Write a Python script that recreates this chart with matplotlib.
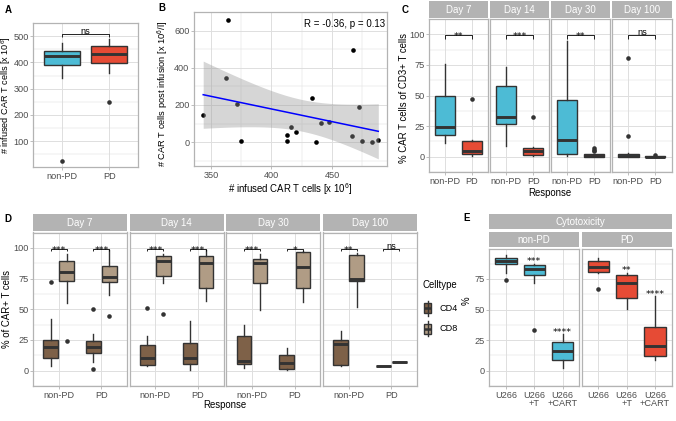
import matplotlib
matplotlib.use('Agg')
import matplotlib.pyplot as plt
import matplotlib.transforms as mtransforms
from matplotlib.patches import Rectangle
import numpy as np

plt.rcParams['font.family'] = ['Liberation Sans', 'DejaVu Sans']
plt.rcParams['mathtext.default'] = 'regular'

W, H = 676, 421

# colours (ggsci npg)
NONPD_COL = '#4DBBD5'
PD_COL = '#E64B35'
CD4_COL = '#7E6148'
CD8_COL = '#B09C85'
EDGE = '#333333'
BORDER = '#B3B3B3'
GRID = '#DEDEDE'
TICKTXT = '#4D4D4D'
TICK_FS = 6.6
TITLE_FS = 6.9

# ---- data ---- (whislo, q1, median, q3, whishi, outliers)
responses = ['non-PD', 'PD']

# A: infused CAR T cells [x 10^6]
a_boxes = [(342, 390, 426, 443, 474, [26]),
           (360, 396, 431, 462, 488, [249])]
a_sig = 'ns'

# B: infused vs post infusion
b_infused = [343.6, 364, 362.1, 371.2, 375, 413, 413, 416.1, 420.5, 433.5,
             436.5, 440.9, 447.5, 466.8, 467.6, 472, 475, 482.8, 488.3]
b_post = [145.6, 658.6, 342.6, 204.2, 8.9, 37.3, 8.9, 79.9, 53.3, 239.7,
          1.8, 101.2, 108.3, 32, 495.3, 188.2, 8.9, 1.8, 12.4]
b_stat = 'R = -0.36, p = 0.13'

# C: % CAR T cells of CD3+ T cells
days = ['Day 7', 'Day 14', 'Day 30', 'Day 100']
c_nonpd = [(10.8, 17.9, 23.9, 49.8, 76, []),
           (8.9, 27, 32.3, 57.9, 73.4, []),
           (0.7, 2.6, 13.4, 46.2, 94.5, []),
           (0, 0, 0.3, 2.4, 3, [17.2, 80.4])]
c_pd = [(0.7, 1.9, 4.8, 12.7, 13.4, [47.1]),
        (0.2, 1.4, 4.8, 7.4, 7.6, [32.5]),
        (0, 0.1, 0.7, 1.9, 2.2, [4.5, 5.5, 6.9]),
        (-0.5, -0.4, 0, 0.5, 0.6, [1.4])]
c_sig = ['**', '***', '**', 'ns']

# D: % of CAR+ T cells by celltype, [non-PD, PD] per day
celltypes = ['CD4', 'CD8']
d_cd4 = [[(4, 10.1, 18.9, 25.2, 41.7, [72.2]), (7.3, 14.6, 19.1, 23.8, 29.5, [49.8, 1.7])],
         [(4, 4.7, 10.1, 21, 28.5, [50.7]), (0.9, 5.2, 9.9, 22.4, 40.1, [])],
         [(1.9, 5.4, 8, 28.5, 36.8, []), (0.7, 1.2, 6.4, 12.5, 18.6, [])],
         [(4, 4.5, 21.7, 25.2, 32.1, []), (3.8, 3.8, 3.8, 3.8, 3.8, [])]]
d_cd8 = [[(55, 72.9, 80.2, 89.6, 94.8, [24.5]), (62, 71.9, 76.4, 85.4, 98, [44.6])],
         [(71.2, 76.7, 89.2, 93.6, 94.8, [45.8]), (57.1, 67.2, 88, 93.4, 98.6, [])],
         [(49, 71.5, 88, 91, 94.8, []), (56.1, 67.2, 84.4, 96.9, 97.6, [])],
         [(52.1, 72.9, 75, 94.3, 96, []), (7.1, 7.1, 7.1, 7.1, 7.1, [])]]
d_sig = [['***', '***'], ['***', '***'], ['***', '*'], ['**', 'ns']]

# E: cytotoxicity
e_groups = ['U266', 'U266\n+T', 'U266\n+CART']
e_nonpd = [(80, 87, 90, 92.5, 94.8, [74.3]),
           (72, 78.5, 83, 86.3, 87.5, [33]),
           (2.5, 8.5, 16, 23.5, 30, [])]
e_pd = [(80, 80.5, 84.5, 89.3, 91.8, [66.5]),
        (50.5, 59.5, 71.8, 78.3, 80, []),
        (8.5, 12, 20, 35.5, 61, [])]
e_nonpd_sig = ['', '***', '****']
e_pd_sig = ['', '**', '****']

fig = plt.figure(figsize=(W / 100, H / 100), dpi=100)


def px_axes(x0, y0, x1, y1):
    return fig.add_axes([x0 / W, 1 - y1 / H, (x1 - x0) / W, (y1 - y0) / H])


def theme(ax, xlim, ylim, yticks, ylabels=True, xticks=None, xlabels=None, xminor=None):
    ax.set_xlim(*xlim)
    ax.set_ylim(*ylim)
    ax.set_yticks(yticks)
    ym = np.array(yticks, dtype=float)
    step = ym[1] - ym[0]
    minor = np.arange(ym[0] - step / 2, ym[-1] + step, step)
    ax.set_yticks(minor, minor=True)
    if xticks is not None:
        ax.set_xticks(xticks)
        if xlabels is not None:
            ax.set_xticklabels(xlabels)
    if xminor is not None:
        ax.set_xticks(xminor, minor=True)
    ax.grid(True, which='major', color=GRID, lw=0.7)
    ax.grid(True, which='minor', color=GRID, lw=0.35)
    ax.set_axisbelow(True)
    for s in ax.spines.values():
        s.set_color(BORDER)
        s.set_linewidth(0.9)
    ax.tick_params(which='major', length=2, width=0.6, color=BORDER, labelsize=TICK_FS,
                   labelcolor=TICKTXT, pad=1.3)
    ax.tick_params(which='minor', length=0)
    if not ylabels:
        ax.tick_params(axis='y', labelleft=False, length=0)


def boxes(ax, stats, positions, colors, width):
    st = [dict(whislo=s[0], q1=s[1], med=s[2], q3=s[3], whishi=s[4], fliers=s[5]) for s in stats]
    res = ax.bxp(st, positions=positions, widths=width, patch_artist=True, showcaps=False,
                 boxprops=dict(edgecolor=EDGE, linewidth=1.0),
                 medianprops=dict(color=EDGE, linewidth=2.1, solid_capstyle='butt'),
                 whiskerprops=dict(color=EDGE, linewidth=1.0),
                 flierprops=dict(marker='o', markerfacecolor=EDGE, markeredgecolor='none',
                                 markersize=3.3))
    for b, c in zip(res['boxes'], colors):
        b.set_facecolor(c)


def sig_text(ax, x, y, label):
    # asterisks sit high in the glyph box, so pull them down onto the line
    dy = 0.6 if label == 'ns' else -3.6
    tr = mtransforms.offset_copy(ax.transData, fig=fig, y=dy, units='dots')
    fs = TICK_FS if label == 'ns' else 6.8
    ax.text(x, y, label, ha='center', va='baseline', fontsize=fs, transform=tr,
            clip_on=False, family=['DejaVu Sans'] if label != 'ns' else None)


def bracket(ax, x1, x2, y, tip, label):
    ax.plot([x1, x1, x2, x2], [y - tip, y, y, y - tip], color='black', lw=0.6,
            solid_capstyle='butt', clip_on=False)
    sig_text(ax, (x1 + x2) / 2, y, label)


def strip(x0, y0, x1, y1, label):
    sax = px_axes(x0, y0, x1, y1)
    sax.set_facecolor(BORDER)
    sax.set_xticks([])
    sax.set_yticks([])
    for s in sax.spines.values():
        s.set_visible(False)
    sax.text(0.5, 0.46, label, ha='center', va='center', color='white', fontsize=7,
             transform=sax.transAxes)


def ftext(x, y, s, **kw):
    fig.text(x / W, 1 - y / H, s, **kw)


# ---------- A ----------
axA = px_axes(33, 23, 138, 167)
boxes(axA, a_boxes, [1, 2], [NONPD_COL, PD_COL], 0.75)
theme(axA, (0.4, 2.6), (2, 535), [100, 200, 300, 400, 500], xticks=[1, 2], xlabels=responses)
axA.tick_params(axis='y', pad=1.0)
bracket(axA, 1, 2, 507, 12, a_sig)
ftext(6.3, 95, '# infused CAR T cells [x 10$^6$]', rotation=90, ha='center', va='center',
      fontsize=6.6)

# ---------- B ----------
axB = px_axes(194, 12, 387, 166)
bx = np.array(b_infused)
by = np.array(b_post)
axB.scatter(bx, by, s=11, color='black', zorder=2, linewidths=0)
slope, icpt = np.polyfit(bx, by, 1)
xs = np.linspace(bx.min(), bx.max(), 80)
fit = icpt + slope * xs
resid = by - (icpt + slope * bx)
n = len(bx)
s_err = np.sqrt(np.sum(resid ** 2) / (n - 2))
se = s_err * np.sqrt(1 / n + (xs - bx.mean()) ** 2 / np.sum((bx - bx.mean()) ** 2))
t_crit = 2.110  # t(0.975, df=17)
axB.fill_between(xs, fit - t_crit * se, fit + t_crit * se, color='#999999', alpha=0.4,
                 lw=0, zorder=3)
axB.plot(xs, fit, color='blue', lw=1.1, zorder=4)
theme(axB, (336, 495.5), (-128, 693), [0, 200, 400, 600], xticks=[350, 400, 450],
      xminor=[375, 425, 475])
axB.text(0.99, 0.955, b_stat, transform=axB.transAxes, ha='right', va='top', fontsize=7)
ftext(163, 94, '# CAR T cells post infusion [x 10$^6$/l]', rotation=90, ha='center',
      va='center', fontsize=6.7)
ftext(290, 189, '# infused CAR T cells [x 10$^6$]', ha='center', va='center', fontsize=TITLE_FS)

# ---------- C ----------
c_x = [(429, 488.2), (490.1, 549.3), (551.2, 610.4), (612.3, 671.5)]
for i, (x0, x1) in enumerate(c_x):
    ax = px_axes(x0, 19, x1, 172)
    boxes(ax, [c_nonpd[i], c_pd[i]], [1, 2], [NONPD_COL, PD_COL], 0.75)
    theme(ax, (0.4, 2.6), (-5.5, 104.3), [0, 25, 50, 75, 100], ylabels=(i == 0),
          xticks=[1, 2], xlabels=responses)
    bracket(ax, 1, 2, 99.3, 2.8, c_sig[i])
    strip(x0, 1, x1, 17.5, days[i])
ftext(404, 98, '% CAR T cells of CD3+ T cells', rotation=90, ha='center', va='center',
      fontsize=TITLE_FS)
ftext(550, 192.5, 'Response', ha='center', va='center', fontsize=TITLE_FS)

# ---------- D ----------
d_x = [(33, 127), (129.7, 223.7), (226.4, 320.4), (323.1, 417.1)]
for i, (x0, x1) in enumerate(d_x):
    ax = px_axes(x0, 232.5, x1, 386)
    stats = [d_cd4[i][0], d_cd8[i][0], d_cd4[i][1], d_cd8[i][1]]
    boxes(ax, stats, [1 - 0.1875, 1 + 0.1875, 2 - 0.1875, 2 + 0.1875],
          [CD4_COL, CD8_COL, CD4_COL, CD8_COL], 0.34)
    theme(ax, (0.4, 2.6), (-4.7, 104.2), [0, 25, 50, 75, 100], ylabels=(i == 0),
          xticks=[1, 2], xlabels=responses)
    for j in range(2):
        bracket(ax, j + 1 - 0.1875, j + 1 + 0.1875, 98.8, 1.3, d_sig[i][j])
    strip(x0, 214, x1, 231, days[i])
ftext(7.5, 309, '% of CAR+ T cells', rotation=90, ha='center', va='center', fontsize=TITLE_FS)
ftext(225, 405, 'Response', ha='center', va='center', fontsize=TITLE_FS)

# legend drawn in its own pixel-space axes
lax = px_axes(410, 270, 470, 345)
lax.set_xlim(410, 470)
lax.set_ylim(345, 270)
lax.axis('off')
lax.text(422.5, 285, 'Celltype', ha='left', va='center', fontsize=TITLE_FS)
for k, (name, col) in enumerate(zip(celltypes, [CD4_COL, CD8_COL])):
    yc = 308.5 + k * 20.5
    lax.plot([427.5, 427.5], [yc - 7.5, yc + 7.5], color=EDGE, lw=1.0)
    lax.add_patch(Rectangle((424, yc - 5), 7, 10, facecolor=col, edgecolor=EDGE, lw=1.0))
    lax.plot([424, 431], [yc, yc], color=EDGE, lw=1.8, solid_capstyle='butt')
    lax.text(439, yc, name, ha='left', va='center', fontsize=TICK_FS)

# ---------- E ----------
strip(489, 214, 672, 229, 'Cytotoxicity')
e_x = [(489, 579.5), (581.5, 672)]
for i, (x0, x1) in enumerate(e_x):
    ax = px_axes(x0, 249, x1, 386)
    data = e_nonpd if i == 0 else e_pd
    sig = e_nonpd_sig if i == 0 else e_pd_sig
    col = NONPD_COL if i == 0 else PD_COL
    boxes(ax, data, [1, 2, 3], [col] * 3, 0.75)
    theme(ax, (0.4, 3.6), (-3.2, 99.5), [0, 25, 50, 75], ylabels=(i == 0),
          xticks=[1, 2, 3], xlabels=e_groups)
    for lab in ax.get_xticklabels():
        lab.set_linespacing(0.85)
    for k, s in enumerate(sig):
        if s:
            sig_text(ax, k + 1, data[k][4] + 2.5, s)
    strip(x0, 232, x1, 247, responses[i])
ftext(466.5, 301, '%', rotation=90, ha='center', va='center', fontsize=TITLE_FS)

# panel letters
for lab, x, y in [('A', 8, 10), ('B', 162, 8), ('C', 405, 10), ('D', 8, 219), ('E', 467, 218)]:
    ftext(x, y, lab, ha='center', va='center', fontsize=7, fontweight='bold')

fig.savefig('out.png', dpi=100)
